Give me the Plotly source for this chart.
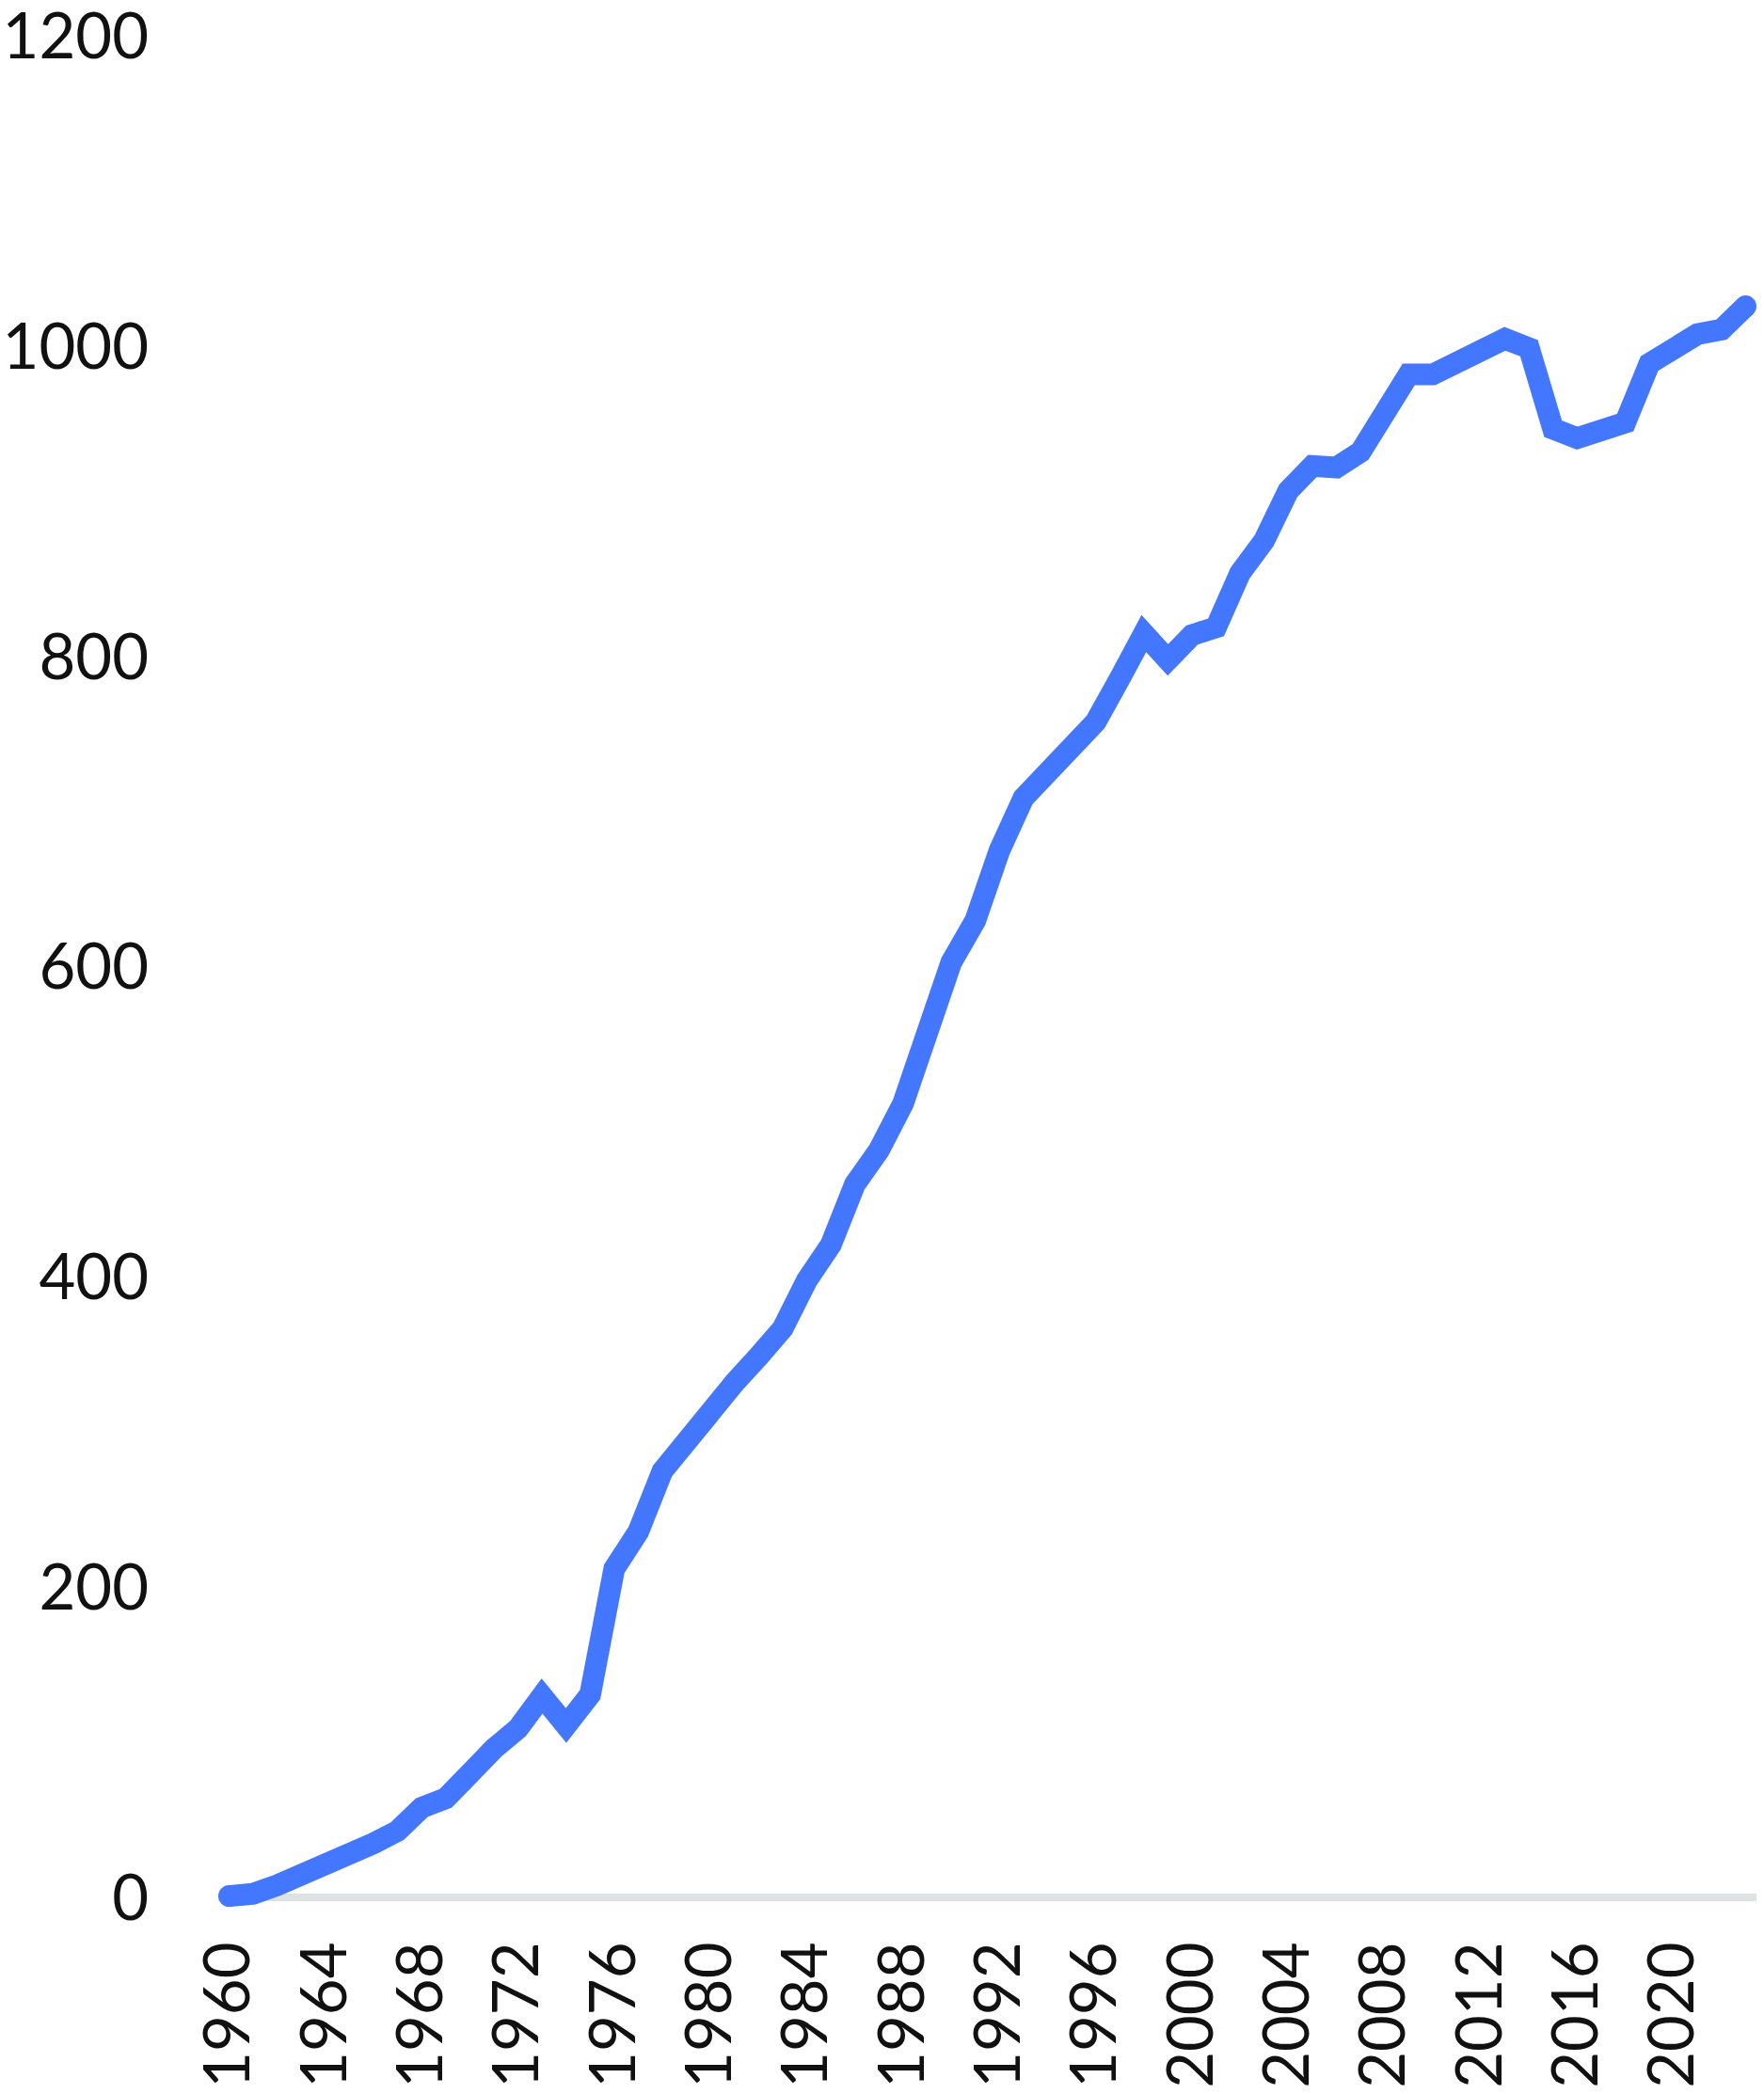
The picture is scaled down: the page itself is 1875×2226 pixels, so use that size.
import plotly.graph_objects as go

years = list(range(1960, 2024))
values = [
    1, 2.5, 8, 14, 23, 28.5, 35, 43, 58, 64,
    81, 96, 109, 130, 111, 131, 212, 236, 275, 295,
    315, 332, 349, 367, 398, 421, 460, 482, 512, 557,
    603, 630, 675, 709, 726, 738, 758, 786, 815, 798,
    814, 819, 854, 875, 907, 923, 922, 932, 960, 982,
    982, 990, 997, 1005, 999, 947, 941, 946, 951, 989,
    998, 1008, 1011, 1026,
]
x_ticks = list(range(1960, 2021, 4))
y_ticks = [0, 200, 400, 600, 800, 1000, 1200]

BLUE = "#4477ff"
FONT = dict(family="Lato, Noto Sans, sans-serif", size=67, color="#111111")

fig = go.Figure()
fig.add_trace(go.Scatter(
    x=years, y=values, mode="lines",
    line=dict(color=BLUE, width=23),
    hoverinfo="skip", showlegend=False,
))
# round end caps like the original line
fig.add_trace(go.Scatter(
    x=[years[0], years[-1]], y=[values[0], values[-1]], mode="markers",
    marker=dict(color=BLUE, size=23, line_width=0),
    hoverinfo="skip", showlegend=False, cliponaxis=False,
))

fig.update_layout(
    width=1875, height=2226,
    margin=dict(l=232, r=8, t=37, b=184),
    paper_bgcolor="white", plot_bgcolor="white",
    font=FONT,
)
fig.update_xaxes(
    range=[1959.55, 2023.45], tickvals=x_ticks, ticktext=[str(v) for v in x_ticks],
    tickangle=-90, showgrid=False, zeroline=False, showline=False, ticks="",
    ticklabelstandoff=8, tickfont=FONT, automargin=False,
    ticklabeloverflow="allow",
)
fig.update_yaxes(
    range=[-15, 1201], tickvals=y_ticks, showgrid=False,
    zeroline=True, zerolinecolor="#dde2e2", zerolinewidth=8,
    showline=False, ticks="", ticklabelstandoff=73, tickfont=FONT,
    automargin=False, ticklabeloverflow="allow",
)

# drop the browser's default body margin so the figure fills the window
fig.write_html(
    "out.html",
    config={"displayModeBar": False},
    post_script="document.body.style.margin='0';",
)
